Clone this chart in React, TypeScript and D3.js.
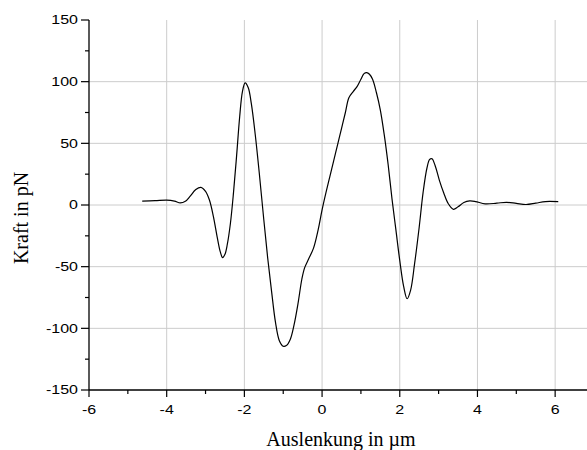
import React from "react";
import * as d3 from "d3";

const xValues: number[] = [
  -4.63, -4.3, -4.0, -3.8, -3.65, -3.52, -3.4, -3.25, -3.12, -3.0, -2.9, -2.8, -2.7, -2.62, -2.56, -2.5,
  -2.44, -2.36, -2.28, -2.2, -2.12, -2.05, -1.98, -1.9, -1.82, -1.72, -1.62, -1.5, -1.4, -1.3, -1.2, -1.1,
  -1.0, -0.92, -0.82, -0.72, -0.62, -0.52, -0.45, -0.35, -0.22, -0.1, 0.0, 0.1, 0.2, 0.3, 0.4, 0.5,
  0.6, 0.69, 0.8, 0.9, 1.0, 1.08, 1.15, 1.22, 1.3, 1.4, 1.5, 1.6, 1.7, 1.8, 1.9, 2.0,
  2.1, 2.19, 2.28, 2.38, 2.5, 2.6, 2.7, 2.77, 2.83, 2.92, 3.02, 3.13, 3.25, 3.38, 3.5, 3.65,
  3.8, 3.95, 4.2, 4.5, 4.75, 5.0, 5.25, 5.5, 5.75, 6.08,
];
const yValues: number[] = [
  3.2, 3.5, 4.0, 3.2, 1.7, 3.0, 7, 12.5, 14.3, 11, 4, -9, -26, -38, -42.7, -40,
  -32, -15, 10, 40, 72, 92, 99, 95, 82, 57, 27, -12, -43, -70, -95, -110,
  -114.5, -114, -109, -97, -80, -60, -51, -44, -35, -20, -4, 10, 23, 36, 49, 62,
  75, 87, 92, 96, 102, 106.5, 107.3, 106, 102, 91, 77, 57, 33, 5, -20, -45,
  -66, -76, -69, -48, -18, 10, 30, 37, 37.5, 31, 20, 10, 1, -3.5, -1.5, 2,
  3.3, 2.8, 0.9, 1.5, 2.2, 1.3, 0.4, 1.5, 2.8, 2.7,
];
const xMajorTicks: number[] = [-6, -4, -2, 0, 2, 4, 6];
const xMinorTicks: number[] = [-5, -3, -1, 1, 3, 5];
const yMajorTicks: number[] = [-150, -100, -50, 0, 50, 100, 150];
const yMinorTicks: number[] = [-125, -75, -25, 25, 75, 125];
const xGrid: number[] = [-4, -2, 0, 2, 4, 6];
const yGrid: number[] = [-100, -50, 0, 50, 100];
const xTitle = "Auslenkung in µm";
const yTitle = "Kraft in pN";

export default function App() {
  const W = 587, H = 450;
  const left = 89, right = 587, top = 20, bottom = 390;
  const x = d3.scaleLinear().domain([-6, 6.82]).range([left, right]);
  const y = d3.scaleLinear().domain([-150, 150]).range([bottom, top]);
  const data = xValues.map((v, i) => [v, yValues[i]] as [number, number]);
  const line = d3
    .line<[number, number]>()
    .x((d) => x(d[0]))
    .y((d) => y(d[1]))
    .curve(d3.curveCatmullRom.alpha(0.5));
  const grid = "#cccccc";
  const tickFont = "'Liberation Sans', Arial, sans-serif";
  const titleFont = "'Liberation Serif', 'Times New Roman', serif";
  return (
    <svg
      width={W}
      height={H}
      style={{ position: "absolute", left: 0, top: 0, background: "#fff" }}
    >
      {xGrid.map((t) => (
        <line key={"gx" + t} x1={x(t)} x2={x(t)} y1={top} y2={bottom} stroke={grid} strokeWidth={1} />
      ))}
      {yGrid.map((t) => (
        <line key={"gy" + t} x1={left} x2={right} y1={y(t)} y2={y(t)} stroke={grid} strokeWidth={1} />
      ))}
      <path d={line(data) || ""} fill="none" stroke="#000" strokeWidth={1.2} />
      <line x1={left} x2={left} y1={top} y2={bottom} stroke="#000" strokeWidth={1.3} />
      <line x1={left} x2={right} y1={bottom} y2={bottom} stroke="#000" strokeWidth={1.3} />
      {xMajorTicks.map((t) => (
        <line key={"xt" + t} x1={x(t)} x2={x(t)} y1={bottom} y2={bottom + 7} stroke="#000" strokeWidth={1.2} />
      ))}
      {xMinorTicks.map((t) => (
        <line key={"xm" + t} x1={x(t)} x2={x(t)} y1={bottom} y2={bottom + 4} stroke="#000" strokeWidth={1.2} />
      ))}
      {yMajorTicks.map((t) => (
        <line key={"yt" + t} x1={left - 8} x2={left} y1={y(t)} y2={y(t)} stroke="#000" strokeWidth={1.2} />
      ))}
      {yMinorTicks.map((t) => (
        <line key={"ym" + t} x1={left - 4} x2={left} y1={y(t)} y2={y(t)} stroke="#000" strokeWidth={1.2} />
      ))}
      {xMajorTicks.map((t) => (
        <text
          key={"xl" + t}
          transform={`translate(${x(t)},${413.5}) scale(1,0.76)`}
          textAnchor="middle"
          fontFamily={tickFont}
          fontSize={16}
          fill="#000"
        >
          {t}
        </text>
      ))}
      {yMajorTicks.map((t) => (
        <text
          key={"yl" + t}
          transform={`translate(${78},${y(t) + 4.4}) scale(1,0.76)`}
          textAnchor="end"
          fontFamily={tickFont}
          fontSize={16}
          fill="#000"
        >
          {t}
        </text>
      ))}
      <text x={341} y={446} textAnchor="middle" fontFamily={titleFont} fontSize={20} fill="#000">
        {xTitle}
      </text>
      <text
        transform={`translate(27.5,218) rotate(-90)`}
        textAnchor="middle"
        fontFamily={titleFont}
        fontSize={20}
        fill="#000"
      >
        {yTitle}
      </text>
    </svg>
  );
}
